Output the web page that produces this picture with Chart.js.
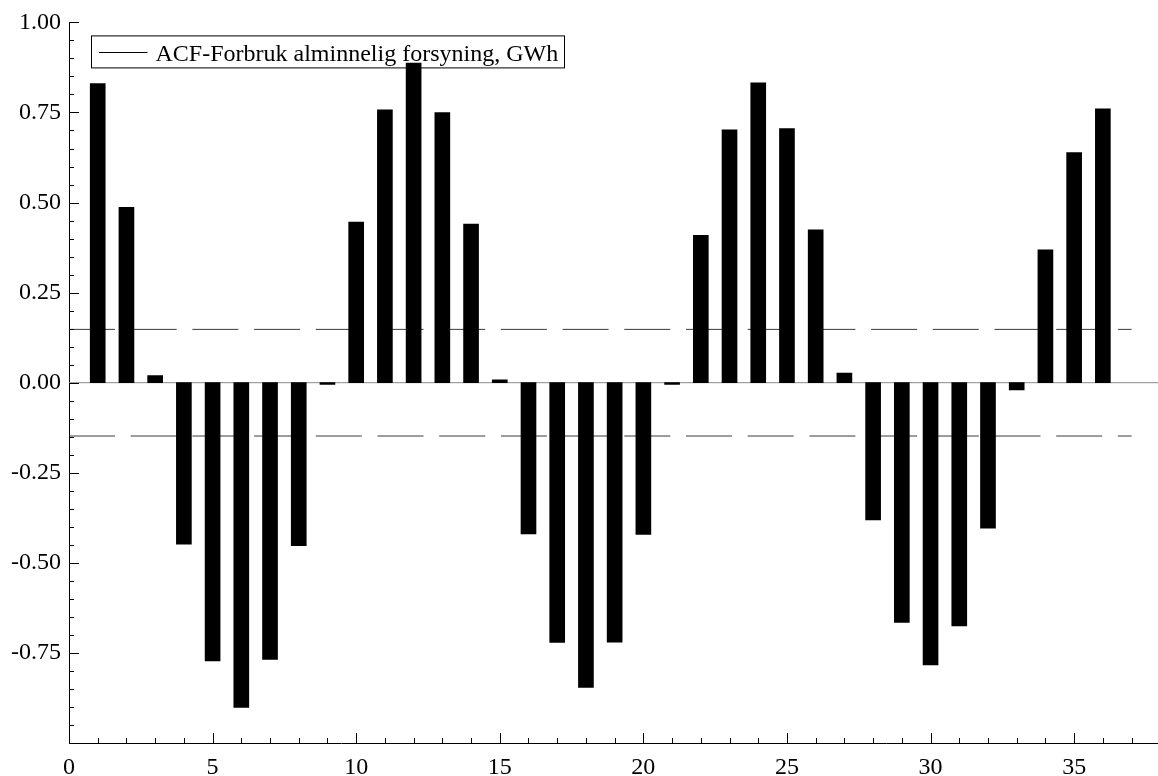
<!DOCTYPE html>
<html>
<head>
<meta charset="utf-8">
<title>ACF-Forbruk alminnelig forsyning, GWh</title>
<script src="https://cdn.jsdelivr.net/npm/chart.js@4/dist/chart.umd.min.js"></script>
<style>
  html, body { margin: 0; padding: 0; background: #fff; }
  #wrap { width: 1158px; height: 776px; }
</style>
</head>
<body>
<div id="wrap"><canvas id="acf"></canvas></div>
<script>
// Lags and autocorrelation estimates
const lags = [1, 2, 3, 4, 5, 6, 7, 8, 9, 10, 11, 12, 13, 14, 15, 16, 17, 18,
              19, 20, 21, 22, 23, 24, 25, 26, 27, 28, 29, 30, 31, 32, 33, 34, 35, 36];
const acf = [0.830, 0.487, 0.020, -0.448, -0.772, -0.901, -0.768, -0.452, -0.005,
             0.446, 0.757, 0.887, 0.750, 0.440, 0.008, -0.420, -0.721, -0.846,
             -0.720, -0.421, -0.005, 0.409, 0.702, 0.832, 0.705, 0.424, 0.027,
             -0.381, -0.665, -0.783, -0.675, -0.404, -0.020, 0.369, 0.639, 0.760];

// Confidence band (±) and the lag range it covers
const bandLevel = 0.148;
const bandLags = [0, 37];

// Axis ranges and labelled ticks
const xRange = [0, 37.92];
const yRange = [-1, 1];
const xTickValues = [0, 5, 10, 15, 20, 25, 30, 35];
const yTickValues = [-0.75, -0.5, -0.25, 0, 0.25, 0.5, 0.75, 1.0];
const xMinorStep = 1;
const yMinorStep = 0.05;

const seriesLabel = 'ACF-Forbruk alminnelig forsyning, GWh';
const FONT = '"Liberation Serif", "Times New Roman", serif';
const FONT_SIZE = 24;

Chart.defaults.font.family = FONT;
Chart.defaults.color = '#000';

// Inward-pointing major and minor tick marks on both axes
const inwardTicks = {
  id: 'inwardTicks',
  afterDraw(chart) {
    const { ctx, chartArea, scales } = chart;
    const xs = scales.x, ys = scales.y;
    ctx.save();
    ctx.strokeStyle = '#000';
    ctx.lineWidth = 1;
    ctx.beginPath();
    const xN = Math.floor(xRange[1] / xMinorStep);
    for (let i = 0; i <= xN; i++) {
      const v = i * xMinorStep;
      const px = Math.round(xs.getPixelForValue(v)) + 0.5;
      const len = (i % 5 === 0) ? 10 : 5;
      ctx.moveTo(px, chartArea.bottom);
      ctx.lineTo(px, chartArea.bottom - len);
    }
    const yN = Math.round((yRange[1] - yRange[0]) / yMinorStep);
    for (let i = 0; i <= yN; i++) {
      const v = yRange[0] + i * yMinorStep;
      const py = Math.round(ys.getPixelForValue(v)) + 0.5;
      const len = (i % 5 === 0) ? 10 : 5;
      ctx.moveTo(chartArea.left, py);
      ctx.lineTo(chartArea.left + len, py);
    }
    ctx.stroke();
    ctx.restore();
  }
};

// Framed legend in the upper-left corner of the plot
const framedLegend = {
  id: 'framedLegend',
  beforeDatasetsDraw(chart) {
    const { ctx, chartArea } = chart;
    const x0 = chartArea.left + 22.5, y0 = chartArea.top + 13.5;
    const w = 473, h = 32;
    ctx.save();
    ctx.fillStyle = '#fff';
    ctx.fillRect(x0, y0, w, h);
    ctx.strokeStyle = '#000';
    ctx.lineWidth = 1;
    ctx.strokeRect(x0, y0, w, h);
    const ly = Math.round(y0 + h / 2) + 0.5;
    ctx.beginPath();
    ctx.moveTo(x0 + 7.5, ly);
    ctx.lineTo(x0 + 56, ly);
    ctx.stroke();
    ctx.fillStyle = '#000';
    ctx.font = FONT_SIZE + 'px ' + FONT;
    ctx.textBaseline = 'alphabetic';
    ctx.textAlign = 'left';
    ctx.fillText(chart.data.datasets[0].label, x0 + 64, y0 + 25.5);
    ctx.restore();
  }
};

new Chart(document.getElementById('acf'), {
  type: 'bar',
  data: {
    datasets: [
      {
        label: seriesLabel,
        data: lags.map((l, i) => ({ x: l, y: acf[i] })),
        backgroundColor: '#000',
        borderWidth: 0,
        barThickness: 15,
        order: 0
      },
      {
        type: 'line',
        label: 'upper',
        data: bandLags.map(l => ({ x: l, y: bandLevel })),
        borderColor: '#3a3a3a',
        borderWidth: 1,
        borderDash: [46, 15.7],
        pointRadius: 0,
        fill: false,
        order: 2
      },
      {
        type: 'line',
        label: 'lower',
        data: bandLags.map(l => ({ x: l, y: -bandLevel })),
        borderColor: '#3a3a3a',
        borderWidth: 1,
        borderDash: [46, 15.7],
        pointRadius: 0,
        fill: false,
        order: 2
      },
      {
        type: 'line',
        label: 'zero',
        data: xRange.map(l => ({ x: l, y: 0 })),
        borderColor: '#8a8a8a',
        borderWidth: 1,
        pointRadius: 0,
        fill: false,
        order: 3
      }
    ]
  },
  options: {
    responsive: true,
    maintainAspectRatio: false,
    animation: false,
    layout: { padding: { top: 19, right: 0, left: 0, bottom: 0 } },
    plugins: {
      legend: { display: false },
      tooltip: { enabled: false }
    },
    scales: {
      x: {
        type: 'linear',
        min: xRange[0],
        max: xRange[1],
        offset: false,
        grid: { display: false, drawTicks: false, offset: false },
        border: { display: true, color: '#000', width: 1 },
        afterBuildTicks: s => { s.ticks = xTickValues.map(v => ({ value: v })); },
        afterFit: s => { s.height = 33; },
        ticks: {
          font: { size: FONT_SIZE, family: FONT },
          color: '#000',
          padding: 10,
          maxRotation: 0,
          autoSkip: false,
          callback: v => String(v)
        }
      },
      y: {
        type: 'linear',
        min: yRange[0],
        max: yRange[1],
        grid: { display: false, drawTicks: false },
        border: { display: true, color: '#000', width: 1 },
        afterBuildTicks: s => { s.ticks = yTickValues.map(v => ({ value: v })); },
        afterFit: s => { s.width = 69; },
        ticks: {
          font: { size: FONT_SIZE, family: FONT },
          color: '#000',
          padding: 8,
          autoSkip: false,
          callback: v => Number(v).toFixed(2)
        }
      }
    }
  },
  plugins: [inwardTicks, framedLegend]
});
</script>
</body>
</html>
